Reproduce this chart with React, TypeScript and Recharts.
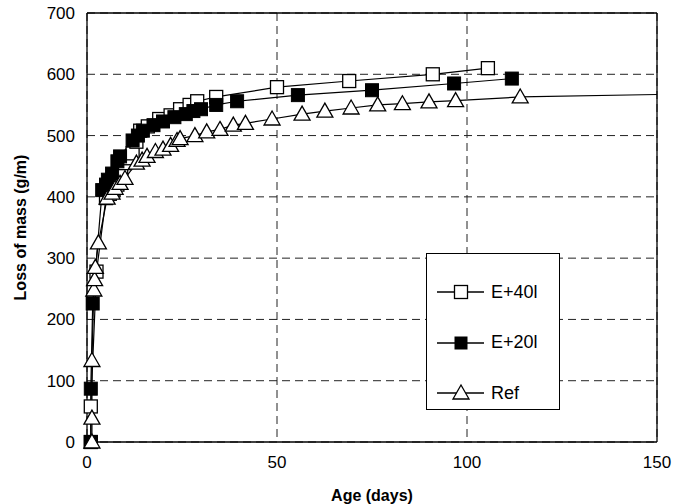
import React from 'react';
import { LineChart, Line, XAxis, YAxis, CartesianGrid, ReferenceLine, Legend } from 'recharts';

// E+40l (open squares)
const e40Days = [1, 1, 2.5, 5, 6, 7, 8, 9, 10, 11, 12, 13, 14, 16, 19, 22, 24.5, 27, 29, 34, 50, 69, 91, 105.5];
const e40Loss = [0, 58, 278, 398, 405, 412, 420, 435, 455, 463, 471, 490, 508, 515, 527, 533, 543, 550, 556, 563, 579, 589, 600, 610];

// E+20l (filled squares)
const e20Days = [1, 1, 1.5, 4, 5, 5.5, 6.6, 8, 8.7, 12, 13.4, 14.7, 17.5, 20, 23, 26, 28, 30, 34, 39.5, 55.5, 75, 96.6, 111.8];
const e20Loss = [0, 87, 226, 411, 420, 428, 438, 458, 466, 492, 500, 508, 517, 523, 530, 535, 540, 543, 550, 556, 566, 574, 585, 593];

// Ref (triangles)
const refDays = [1.3, 1.3, 1.3, 1.8, 2, 2.2, 3, 5.3, 6.6, 7.4, 8.7, 10, 13, 14.5, 15.8, 18, 20, 22, 23.7, 24.5, 28.4, 31.5, 35, 38.5, 41.7, 48.7, 56.6, 62.6, 69.5, 76.5, 83, 90, 97, 114];
const refLoss = [0, 39, 133, 248, 265, 285, 325, 398, 406, 414, 422, 430, 455, 460, 466, 474, 478, 484, 492, 495, 500, 506, 510, 517, 520, 527, 535, 540, 545, 550, 552, 555, 557, 563];

// trend line continuing after the last Ref point
const refTailDays = [114, 150];
const refTailLoss = [563, 567];

const xTicks = [0, 50, 100, 150];
const yTicks = [0, 100, 200, 300, 400, 500, 600, 700];

const toPoints = (days: number[], loss: number[]) => days.map((d, i) => ({ day: d, loss: loss[i] }));

const font = '"Liberation Sans", Arial, sans-serif';

const OpenSquare = (p: any) => (
  <rect key={`o-${p.index}`} x={p.cx - 6.5} y={p.cy - 6.5} width={13} height={13} fill="#fff" stroke="#000" strokeWidth={1.3} />
);
const FilledSquare = (p: any) => (
  <rect key={`f-${p.index}`} x={p.cx - 6.5} y={p.cy - 6.5} width={13} height={13} fill="#000" stroke="#000" strokeWidth={1} />
);
const Triangle = (p: any) => (
  <path key={`t-${p.index}`} d={`M${p.cx},${p.cy - 8} L${p.cx + 8},${p.cy + 6} L${p.cx - 8},${p.cy + 6} Z`} fill="#fff" stroke="#000" strokeWidth={1.3} />
);

const legendItems = [
  { name: 'E+40l', marker: 'open' },
  { name: 'E+20l', marker: 'filled' },
  { name: 'Ref', marker: 'tri' },
];

const LegendBox = () => (
  <div style={{ width: 134, height: 157, boxSizing: 'border-box', border: '1.3px solid #000', background: '#fff', fontFamily: font, fontSize: 18, color: '#000', paddingTop: 13 }}>
    {legendItems.map((it) => (
      <div key={it.name} style={{ display: 'flex', alignItems: 'center', height: 50.5 }}>
        <svg width={64} height={20} style={{ marginLeft: 8 }}>
          <line x1={2} y1={10} x2={49} y2={10} stroke="#000" strokeWidth={1.3} />
          {it.marker === 'open' && <rect x={19.5} y={3.5} width={13} height={13} fill="#fff" stroke="#000" strokeWidth={1.3} />}
          {it.marker === 'filled' && <rect x={19.5} y={3.5} width={13} height={13} fill="#000" />}
          {it.marker === 'tri' && <path d="M26,2 L34,16 L18,16 Z" fill="#fff" stroke="#000" strokeWidth={1.3} />}
        </svg>
        <span style={{ marginLeft: -8 }}>{it.name}</span>
      </div>
    ))}
  </div>
);

export default function App() {
  return (
    <div style={{ position: 'absolute', left: 0, top: 0, background: '#fff' }}>
      <LineChart width={675} height={504} margin={{ top: 13, right: 18, bottom: 0, left: 0 }}>
        <CartesianGrid stroke="#222" strokeDasharray="8 5" strokeWidth={1} />
        <XAxis
          dataKey="day"
          type="number"
          domain={[0, 150]}
          ticks={xTicks}
          height={62}
          allowDuplicatedCategory={false}
          axisLine={{ stroke: '#000', strokeWidth: 1.3 }}
          tickLine={false}
          tickMargin={8}
          tick={{ fill: '#000', fontSize: 17, fontFamily: font }}
          label={{ value: 'Age (days)', position: 'insideBottom', offset: 3, fill: '#000', fontSize: 16, fontWeight: 'bold', fontFamily: font }}
        />
        <YAxis
          dataKey="loss"
          type="number"
          domain={[0, 700]}
          ticks={yTicks}
          width={87}
          axisLine={{ stroke: '#000', strokeWidth: 1.3 }}
          tickLine={false}
          tickMargin={6}
          tick={{ fill: '#000', fontSize: 17, fontFamily: font }}
          label={{ value: 'Loss of mass (g/m)', angle: -90, position: 'insideLeft', offset: 20, style: { textAnchor: 'middle' }, fill: '#000', fontSize: 16, fontWeight: 'bold', fontFamily: font }}
        />
        <ReferenceLine x={150} stroke="#000" strokeWidth={1.3} />
        <ReferenceLine y={700} stroke="#000" strokeWidth={1.3} />
        <Line data={toPoints(refTailDays, refTailLoss)} dataKey="loss" stroke="#000" strokeWidth={1.2} dot={false} legendType="none" isAnimationActive={false} />
        <Line data={toPoints(e40Days, e40Loss)} dataKey="loss" name="E+40l" stroke="#000" strokeWidth={1.2} dot={OpenSquare} activeDot={false} isAnimationActive={false} />
        <Line data={toPoints(e20Days, e20Loss)} dataKey="loss" name="E+20l" stroke="#000" strokeWidth={1.2} dot={FilledSquare} activeDot={false} isAnimationActive={false} />
        <Line data={toPoints(refDays, refLoss)} dataKey="loss" name="Ref" stroke="#000" strokeWidth={1.2} dot={Triangle} activeDot={false} isAnimationActive={false} />
        <Legend
          layout="vertical"
          align="center"
          verticalAlign="middle"
          content={() => <LegendBox />}
          wrapperStyle={{ left: 426, top: 253, width: 134, height: 157 }}
        />
      </LineChart>
    </div>
  );
}
